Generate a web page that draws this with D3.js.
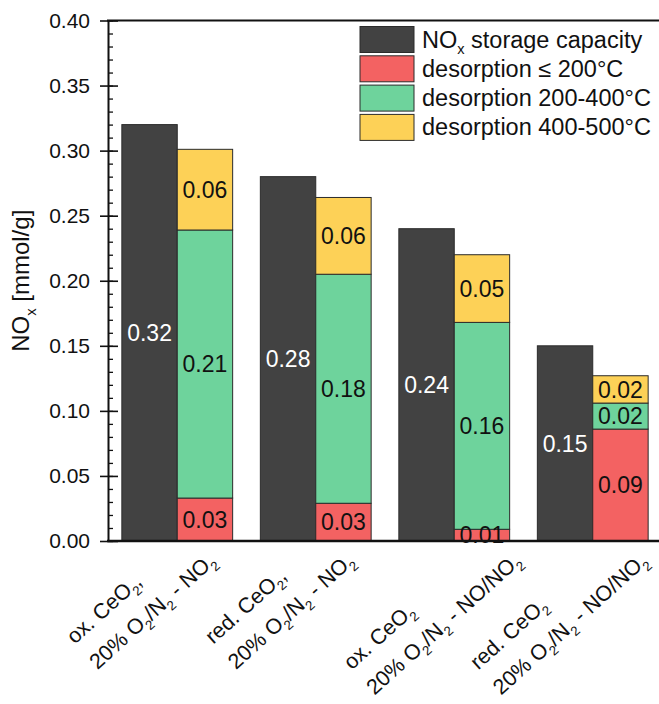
<!DOCTYPE html>
<html>
<head>
<meta charset="utf-8">
<script src="https://cdn.jsdelivr.net/npm/d3@7"></script>
<style>
  body { margin: 0; background: #fff; }
  svg { display: block; }
  text { font-family: "Liberation Sans", Arial, sans-serif; fill: #111; }
</style>
</head>
<body>
<svg id="chart" width="659" height="704"></svg>
<script>
// Sample / atmosphere labels (two lines each, "_" marks a one-character subscript)
const groupLine1 = ["ox. CeO_2,", "red. CeO_2,", "ox. CeO_2", "red. CeO_2"];
const groupLine2 = ["20% O_2/N_2 - NO_2", "20% O_2/N_2 - NO_2", "20% O_2/N_2 - NO/NO_2", "20% O_2/N_2 - NO/NO_2"];

// NOx storage capacity (left bar of each pair), mmol/g
const capacity = [0.32, 0.28, 0.24, 0.15];
// Desorbed NOx by temperature window (stacked right bar), mmol/g
const desorbLow = [0.033, 0.029, 0.009, 0.086];   // <= 200 °C
const desorbMid = [0.206, 0.176, 0.159, 0.020];   // 200-400 °C
const desorbHigh = [0.062, 0.059, 0.052, 0.021];  // 400-500 °C

const seriesNames = ["NO_x storage capacity", "desorption \u2264 200\u00b0C", "desorption 200-400\u00b0C", "desorption 400-500\u00b0C"];
const seriesColors = ["#424242", "#f36262", "#6ed39c", "#fdd157"];

const yTicks = [0, 0.05, 0.10, 0.15, 0.20, 0.25, 0.30, 0.35, 0.40];
const yMinorTicks = d3.range(0, 41).map(i => i / 100);

// ---- layout ----
const svg = d3.select("#chart");
const width = 659;
const axisX = 108, plotTop = 20.5, plotBottom = 541, plotRight = 662;
const fmt = d3.format(".2f");

const y = d3.scaleLinear().domain([0, 0.40]).range([plotBottom, plotTop]);
const x0 = d3.scaleBand().domain(d3.range(capacity.length))
  .range([axisX, plotRight]).paddingInner(0.2).paddingOuter(0.1);
const x1 = d3.scaleBand().domain(["cap", "des"]).range([0, x0.bandwidth()]);

// writes a string with "_c" subscripts into a <text> element
function rich(sel, str, fs) {
  const parts = str.split(/(_.)/).filter(s => s.length);
  let shifted = false;
  parts.forEach(p => {
    if (p[0] === "_" && p.length === 2) {
      sel.append("tspan").attr("font-size", fs * 0.62).attr("dy", fs * 0.28).text(p[1]);
      shifted = true;
    } else {
      sel.append("tspan").attr("font-size", fs).attr("dy", shifted ? -fs * 0.28 : 0).text(p);
      shifted = false;
    }
  });
}

// ---- bars ----
const barStroke = "#2b2b2b";
const groups = svg.append("g").selectAll("g").data(capacity).join("g")
  .attr("transform", (d, i) => `translate(${x0(i)},0)`);

groups.append("rect")
  .attr("x", x1("cap")).attr("width", x1.bandwidth())
  .attr("y", d => y(d)).attr("height", d => y(0) - y(d))
  .attr("fill", seriesColors[0]).attr("stroke", barStroke).attr("stroke-width", 1);

groups.append("text")
  .attr("x", x1("cap") + x1.bandwidth() / 2)
  .attr("y", d => (y(d) + y(0)) / 2).attr("dy", "0.36em")
  .attr("text-anchor", "middle").attr("font-size", 23)
  .style("fill", "#fff").text(d => fmt(d));

const stackRows = capacity.map((_, i) => ({ low: desorbLow[i], mid: desorbMid[i], high: desorbHigh[i] }));
const stacked = d3.stack().keys(["low", "mid", "high"])(stackRows);

stacked.forEach((layer, k) => {
  layer.forEach((seg, i) => {
    const g = groups.filter((d, j) => j === i);
    g.append("rect")
      .attr("x", x1("des")).attr("width", x1.bandwidth())
      .attr("y", y(seg[1])).attr("height", y(seg[0]) - y(seg[1]))
      .attr("fill", seriesColors[k + 1]).attr("stroke", barStroke).attr("stroke-width", 1);
  });
});
stacked.forEach(layer => {
  layer.forEach((seg, i) => {
    const g = groups.filter((d, j) => j === i);
    g.append("text")
      .attr("x", x1("des") + x1.bandwidth() / 2)
      .attr("y", (y(seg[0]) + y(seg[1])) / 2).attr("dy", "0.36em")
      .attr("text-anchor", "middle").attr("font-size", 23)
      .text(fmt(seg[1] - seg[0]));
  });
});

// ---- axes ----
const yAxisOut = svg.append("g").attr("transform", `translate(${axisX},0)`)
  .call(d3.axisLeft(y).tickValues(yTicks).tickFormat(fmt).tickSize(8).tickSizeOuter(0).tickPadding(10));
yAxisOut.selectAll("text").attr("font-size", 21).style("fill", "#111");
yAxisOut.select(".domain").attr("stroke", "#111").attr("stroke-width", 2);
yAxisOut.selectAll(".tick line").attr("stroke", "#111").attr("stroke-width", 1.6);

const yAxisIn = svg.append("g").attr("transform", `translate(${axisX},0)`)
  .call(d3.axisRight(y).tickValues(yTicks).tickFormat("").tickSize(10).tickSizeOuter(0));
yAxisIn.select(".domain").remove();
yAxisIn.selectAll(".tick line").attr("stroke", "#111").attr("stroke-width", 1.6);

const yAxisMinor = svg.append("g").attr("transform", `translate(${axisX},0)`)
  .call(d3.axisRight(y).tickValues(yMinorTicks).tickFormat("").tickSize(5).tickSizeOuter(0));
yAxisMinor.select(".domain").remove();
yAxisMinor.selectAll(".tick line").attr("stroke", "#111").attr("stroke-width", 1.3);

// frame lines (bottom axis and top edge)
svg.append("line").attr("x1", axisX - 1).attr("x2", width).attr("y1", plotBottom).attr("y2", plotBottom)
  .attr("stroke", "#111").attr("stroke-width", 2.4);
svg.append("line").attr("x1", axisX - 1).attr("x2", width).attr("y1", plotTop).attr("y2", plotTop)
  .attr("stroke", "#111").attr("stroke-width", 2);

// y-axis title
const yTitle = svg.append("text")
  .attr("transform", `translate(29,${(plotTop + plotBottom) / 2}) rotate(-90)`)
  .attr("text-anchor", "middle");
rich(yTitle, "NO_x [mmol/g]", 24);

// ---- rotated category labels (two left-aligned lines) ----
// left edge of the block sits at a fixed offset from the group centre,
// the top of the second line's end is pinned just below the axis,
// and a block that would run past the right edge is pulled back inside
const xfs = 21.5, lineGap = 34, angle = 42;
const sinA = Math.sin(angle * Math.PI / 180), cosA = Math.cos(angle * Math.PI / 180);
const svgLeft = svg.node().getBoundingClientRect().left;
capacity.forEach((_, i) => {
  const center = x0(i) + x0.bandwidth() / 2;
  const g = svg.append("g");
  const t1 = g.append("text").attr("x", 0).attr("y", 0);
  rich(t1, groupLine1[i], xfs);
  const t2 = g.append("text").attr("x", 0).attr("y", lineGap);
  rich(t2, groupLine2[i], xfs);
  const L2 = t2.node().getComputedTextLength();
  let tx = center - 110 + 0.52 * xfs * sinA;
  const ty = 551 + L2 * sinA - (lineGap - 0.72 * xfs) * cosA;
  g.attr("transform", `translate(${tx},${ty}) rotate(${-angle})`);
  const right = g.node().getBoundingClientRect().right - svgLeft;
  if (right > width - 4) {
    tx -= right - (width - 4);
    g.attr("transform", `translate(${tx},${ty}) rotate(${-angle})`);
  }
});

// ---- legend ----
const legend = svg.append("g");
seriesNames.forEach((name, i) => {
  const top = 26.5 + i * 29.3;
  legend.append("rect").attr("x", 360).attr("y", top).attr("width", 54).attr("height", 26)
    .attr("fill", seriesColors[i]).attr("stroke", barStroke).attr("stroke-width", 1);
  const t = legend.append("text").attr("x", 422).attr("y", top + 21);
  rich(t, name, 23.5);
});
</script>
</body>
</html>
